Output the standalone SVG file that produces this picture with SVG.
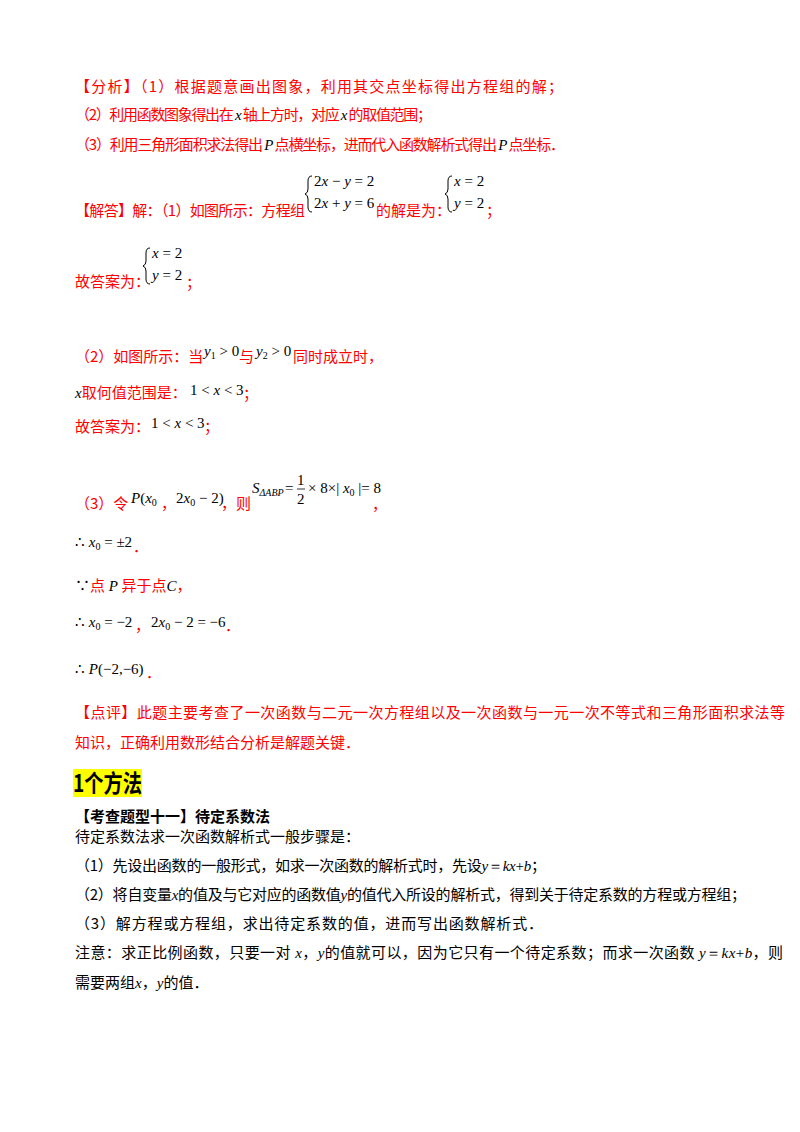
<svg xmlns="http://www.w3.org/2000/svg" width="800" height="1132" viewBox="0 0 800 1132">
<style>
text{font-family:"Noto Sans CJK SC","Noto Sans",sans-serif;font-size:15px;fill:#000}
.r{fill:#ff0000}
.m{font-family:"Liberation Serif",serif;font-size:15px}
.i{font-style:italic}
.s{font-size:10px}
.b{font-weight:bold}
.br{fill:none;stroke:#000;stroke-width:1}
</style>
<rect width="800" height="1132" fill="#fff"/>
<g id="analysis">
<text x="75" y="92" class="r" textLength="488" lengthAdjust="spacing">【分析】（1）根据题意画出图象，利用其交点坐标得出方程组的解；</text>
<text x="75" y="120" class="r" textLength="357" lengthAdjust="spacing">（2）利用函数图象得出在<tspan class="m i" fill="#000"> x </tspan>轴上方时，对应<tspan class="m i" fill="#000"> x </tspan>的取值范围；</text>
<text x="75" y="150" class="r" textLength="490" lengthAdjust="spacing">（3）利用三角形面积求法得出<tspan class="m i" fill="#000"> P </tspan>点横坐标，进而代入函数解析式得出<tspan class="m i" fill="#000"> P </tspan>点坐标．</text>
</g>
<g id="answer1">
<text x="75" y="216" class="r" textLength="230" lengthAdjust="spacing">【解答】解：（1）如图所示：方程组</text>
<path class="br" d="M312,176 q-4,0 -4,5 v8 q0,4 -3,5 q3,1 3,5 v8 q0,5 4,5"/>
<text x="314" y="186" class="m">2<tspan class="i">x</tspan> − <tspan class="i">y</tspan> = 2</text>
<text x="314" y="208" class="m">2<tspan class="i">x</tspan> + <tspan class="i">y</tspan> = 6</text>
<text x="376" y="216" class="r">的解是为：</text>
<path class="br" d="M452,176 q-4,0 -4,5 v8 q0,4 -3,5 q3,1 3,5 v8 q0,5 4,5"/>
<text x="454" y="186" class="m"><tspan class="i">x</tspan> = 2</text>
<text x="454" y="208" class="m"><tspan class="i">y</tspan> = 2</text>
<text x="486" y="216" class="r">；</text>
<text x="75" y="287" class="r">故答案为：</text>
<path class="br" d="M150,248 q-4,0 -4,5 v8 q0,4 -3,5 q3,1 3,5 v8 q0,5 4,5"/>
<text x="152" y="258" class="m"><tspan class="i">x</tspan> = 2</text>
<text x="152" y="280" class="m"><tspan class="i">y</tspan> = 2</text>
<text x="186" y="288" class="r">；</text>
</g>
<g id="answer2">
<text x="75" y="362" class="r">（2）如图所示：当</text>
<text x="204" y="356" class="m"><tspan class="i">y</tspan><tspan class="s" dy="3">1</tspan><tspan dy="-3"> &gt; 0</tspan></text>
<text x="239" y="362" class="r">与</text>
<text x="256" y="356" class="m"><tspan class="i">y</tspan><tspan class="s" dy="3">2</tspan><tspan dy="-3"> &gt; 0</tspan></text>
<text x="293" y="362" class="r">同时成立时，</text>
<text x="75" y="398" class="r"><tspan class="m i" fill="#000">x</tspan>取何值范围是：</text>
<text x="190" y="395" class="m">1 &lt; <tspan class="i">x</tspan> &lt; 3</text>
<text x="243" y="399" class="r">；</text>
<text x="75" y="432" class="r">故答案为：</text>
<text x="151" y="428" class="m">1 &lt; <tspan class="i">x</tspan> &lt; 3</text>
<text x="204" y="432" class="r">；</text>
</g>
<g id="answer3">
<text x="75" y="509" class="r">（3）令</text>
<text x="131" y="503" class="m"><tspan class="i">P</tspan>(<tspan class="i">x</tspan><tspan class="s" dy="3">0</tspan></text>
<text x="161" y="509" class="r">，</text>
<text x="176" y="503" class="m">2<tspan class="i">x</tspan><tspan class="s" dy="3">0</tspan><tspan dy="-3"> − 2)</tspan></text>
<text x="221" y="509" class="r">，则</text>
<text x="252" y="493" class="m i">S<tspan class="s" dy="3">ΔABP</tspan></text>
<text x="285" y="493" class="m">=</text>
<text x="297" y="485" class="m">1</text>
<line x1="297" y1="489" x2="305" y2="489" stroke="#000" stroke-width="0.8"/>
<text x="297" y="504" class="m">2</text>
<text x="308" y="493" class="m">× 8×| <tspan class="i">x</tspan><tspan class="s" dy="3">0</tspan><tspan dy="-3"> |= 8</tspan></text>
<text x="372" y="510" class="r">，</text>
<text x="75" y="547" class="m">∴ <tspan class="i">x</tspan><tspan class="s" dy="3">0</tspan><tspan dy="-3"> = ±2</tspan></text>
<text x="133" y="552" class="r">．</text>
<text x="75" y="591" class="r"><tspan fill="#000">∵</tspan>点<tspan class="m i" fill="#000"> P </tspan>异于点<tspan class="m i" fill="#000">C</tspan>，</text>
<text x="75" y="627" class="m">∴ <tspan class="i">x</tspan><tspan class="s" dy="3">0</tspan><tspan dy="-3"> = −2</tspan></text>
<text x="135" y="631" class="r">，</text>
<text x="151" y="627" class="m">2<tspan class="i">x</tspan><tspan class="s" dy="3">0</tspan><tspan dy="-3"> − 2 = −6</tspan></text>
<text x="225" y="631" class="r">．</text>
<text x="75" y="674" class="m">∴ <tspan class="i">P</tspan>(−2,−6)</text>
<text x="146" y="678" class="r">．</text>
</g>
<g id="comment">
<text x="75" y="718" class="r" textLength="710" lengthAdjust="spacing">【点评】此题主要考查了一次函数与二元一次方程组以及一次函数与一元一次不等式和三角形面积求法等</text>
<text x="75" y="748" class="r">知识，正确利用数形结合分析是解题关键．</text>
</g>
<g id="method">
<rect x="73" y="769" width="69" height="28" fill="#ffff00"/>
<text x="73" y="792" class="b" style="font-size:24px" textLength="69" lengthAdjust="spacingAndGlyphs">1个方法</text>
<text x="75" y="822" class="b">【考查题型十一】待定系数法</text>
<text x="75" y="842">待定系数法求一次函数解析式一般步骤是：</text>
<text x="75" y="871" textLength="471" lengthAdjust="spacing">（1）先设出函数的一般形式，如求一次函数的解析式时，先设<tspan class="m i">y</tspan><tspan class="m">＝</tspan><tspan class="m i">kx</tspan><tspan class="m">+</tspan><tspan class="m i">b</tspan>；</text>
<text x="75" y="900" textLength="671" lengthAdjust="spacing">（2）将自变量<tspan class="m i">x</tspan>的值及与它对应的函数值<tspan class="m i">y</tspan>的值代入所设的解析式，得到关于待定系数的方程或方程组；</text>
<text x="75" y="929" textLength="468" lengthAdjust="spacing">（3）解方程或方程组，求出待定系数的值，进而写出函数解析式．</text>
<text x="75" y="958" textLength="708" lengthAdjust="spacing">注意：求正比例函数，只要一对<tspan class="m i"> x</tspan>，<tspan class="m i">y</tspan>的值就可以，因为它只有一个待定系数；而求一次函数<tspan class="m i"> y</tspan><tspan class="m">＝</tspan><tspan class="m i">kx</tspan><tspan class="m">+</tspan><tspan class="m i">b</tspan>，则</text>
<text x="75" y="988">需要两组<tspan class="m i">x</tspan>，<tspan class="m i">y</tspan>的值．</text>
</g>
</svg>
